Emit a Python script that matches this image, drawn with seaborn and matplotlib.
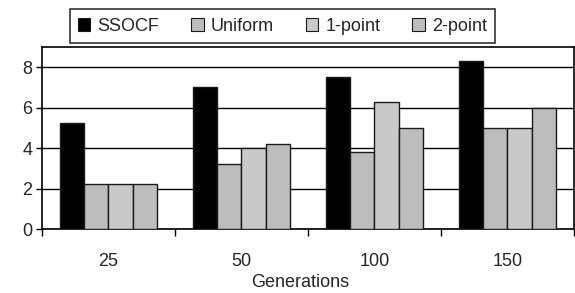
import pandas as pd
import matplotlib.pyplot as plt
import seaborn as sns

generations = ['25', '50', '100', '150']
methods = ['SSOCF', 'Uniform', '1-point', '2-point']
ssocf = [5.25, 7.0, 7.5, 8.3]
uniform = [2.25, 3.2, 3.8, 5.0]
one_point = [2.25, 4.0, 6.3, 5.0]
two_point = [2.25, 4.2, 5.0, 6.0]

colors = ['#000000', '#bdbdbd', '#c9c9c9', '#bdbdbd']

rows = []
for name, vals in zip(methods, [ssocf, uniform, one_point, two_point]):
    for g, v in zip(generations, vals):
        rows.append({'Generations': g, 'Method': name, 'Value': v})
df = pd.DataFrame(rows)

sns.set_style('white')
plt.rcParams['font.family'] = ['Liberation Sans', 'DejaVu Sans']

fig = plt.figure(figsize=(5.75, 2.93), dpi=100)
ax = fig.add_axes([0.073, 0.218, 0.925, 0.622])

sns.barplot(data=df, x='Generations', y='Value', hue='Method', order=generations,
            hue_order=methods, palette=colors, width=0.73, edgecolor='#1a1a1a',
            linewidth=1.0, saturation=1, ax=ax, zorder=3)

ax.set_ylim(0, 9)
ax.set_yticks([0, 2, 4, 6, 8])
ax.set_xlim(-0.5, 3.5)
ax.yaxis.grid(True, color='black', linewidth=1.0, zorder=0)
ax.set_axisbelow(True)
for s in ax.spines.values():
    s.set_color('black')
    s.set_linewidth(1.2)

# ticks between categories on the x axis
ax.set_xticks([0, 1, 2, 3])
ax.set_xticks([-0.5, 0.5, 1.5, 2.5, 3.5], minor=True)
ax.tick_params(axis='x', which='major', length=0, labelsize=13, pad=17)
ax.tick_params(axis='x', which='minor', length=5, width=1, color='black', direction='out', bottom=True)
ax.tick_params(axis='y', length=4, width=1, color='black', direction='out', left=True, labelsize=13, pad=3)
ax.set_xlabel('')
ax.set_ylabel('')
fig.text(0.522, 0.035, 'Generations', ha='center', va='center', fontsize=13)

ax.get_legend().remove()
handles = [plt.Rectangle((0, 0), 1, 1, facecolor=c, edgecolor='#1a1a1a', linewidth=0.8) for c in colors]
leg = fig.legend(handles, methods, loc='center', bbox_to_anchor=(0.491, 0.911),
                 bbox_transform=fig.transFigure, ncol=4, fontsize=13, frameon=True,
                 fancybox=False, handlelength=0.7, handleheight=0.7, handletextpad=0.4,
                 columnspacing=1.75, borderpad=0.45, borderaxespad=0)
leg.get_frame().set_edgecolor('black')
leg.get_frame().set_linewidth(1.2)

fig.savefig('out.png', dpi=100)
